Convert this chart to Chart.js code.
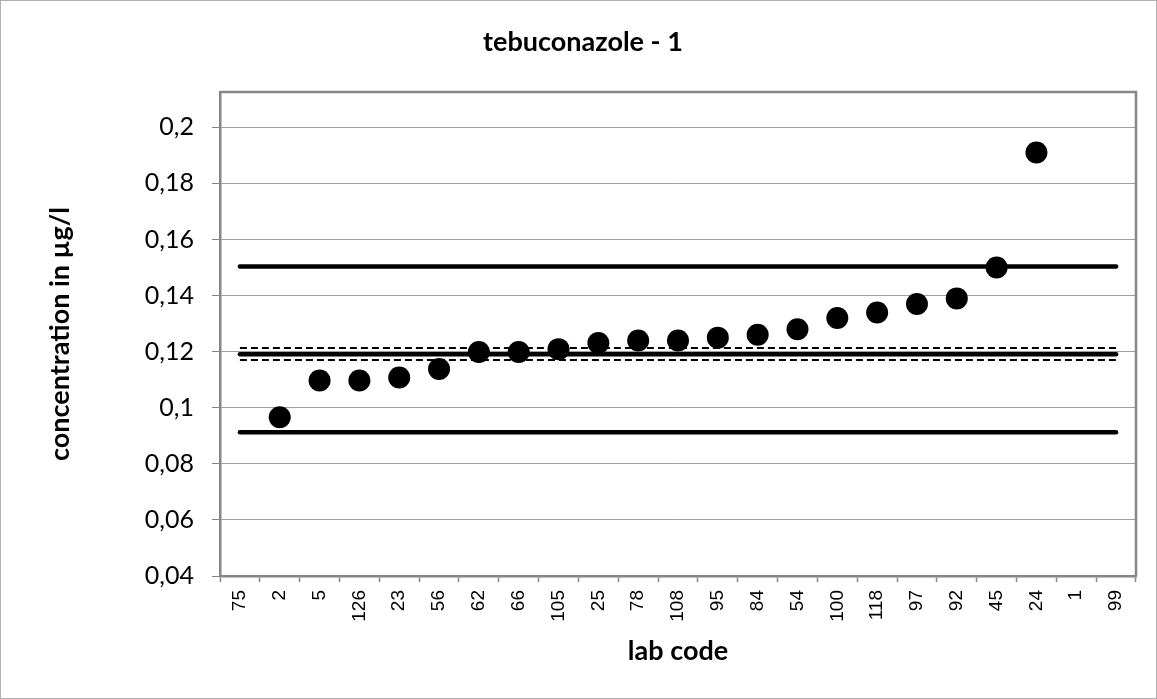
<!DOCTYPE html>
<html><head><meta charset="utf-8">
<script src="https://cdn.jsdelivr.net/npm/chart.js@4"></script>
<style>html,body{margin:0;padding:0;background:#fff}#wrap{width:1157px;height:699px;position:relative}</style>
</head><body><div id="wrap"><canvas id="c" width="1157" height="699"></canvas></div>
<script>
const labCodes = ['75','2','5','126','23','56','62','66','105','25','78','108','95','84','54','100','118','97','92','45','24','1','99'];
const concentrations = [null,0.0966,0.1097,0.1097,0.1108,0.1138,0.1199,0.1199,0.1209,0.1231,0.124,0.124,0.125,0.126,0.128,0.132,0.134,0.137,0.139,0.150,0.191,null,null];
const assignedValue = 0.1191;
const uncertaintyUpper = 0.1213;
const uncertaintyLower = 0.1170;
const toleranceUpper = 0.1504;
const toleranceLower = 0.0913;
const yTicks = [0.04,0.06,0.08,0.1,0.12,0.14,0.16,0.18,0.2];
const yMin = 0.04, yMax = 0.2126;

const constLine = v => labCodes.map(() => v);

const framePlugin = {
  id:'frame',
  beforeDraw(chart){
    const c = chart.ctx;
    c.save(); c.fillStyle='#fff'; c.fillRect(0,0,chart.width,chart.height); c.restore();
  },
  beforeDatasetsDraw(chart){
    const {ctx, chartArea:a} = chart;
    ctx.save();
    ctx.strokeStyle='#868686'; ctx.lineWidth=2.5;
    ctx.beginPath();
    ctx.moveTo(a.left, a.top); ctx.lineTo(a.right, a.top); ctx.lineTo(a.right, a.bottom);
    ctx.stroke();
    ctx.restore();
  },
  afterDraw(chart){
    const ctx = chart.ctx;
    ctx.save(); ctx.strokeStyle='#b0b0b0'; ctx.lineWidth=1;
    ctx.strokeRect(0.5,0.5,chart.width-1,chart.height-1);
    ctx.restore();
  }
};

const lineDs = (data, width, dash) => ({
  data, type:'line', borderColor:'#000', backgroundColor:'#000', borderWidth:width,
  borderDash:dash, pointRadius:0, pointHoverRadius:0, fill:false, tension:0,
  borderCapStyle: dash.length ? 'butt' : 'round'
});

new Chart(document.getElementById('c'), {
  type:'line',
  data:{
    labels: labCodes,
    datasets:[
      {data:concentrations, showLine:false, pointRadius:11, pointHoverRadius:11, pointBackgroundColor:'#000', pointBorderWidth:0, borderColor:'#000', backgroundColor:'#000'},
      lineDs(constLine(toleranceUpper),4.5,[]),
      lineDs(constLine(uncertaintyUpper),2,[7,4]),
      lineDs(constLine(assignedValue),4.5,[]),
      lineDs(constLine(uncertaintyLower),2,[7,4]),
      lineDs(constLine(toleranceLower),4.5,[])
    ]
  },
  options:{
    responsive:false, animation:false,
    layout:{padding:{left:30,right:21,top:0,bottom:0}},
    plugins:{
      legend:{display:false}, tooltip:{enabled:false},
      title:{display:true,text:'tebuconazole - 1',color:'#000',font:{family:'Lato',size:27,weight:'bold',lineHeight:1.2},padding:{top:25.8,bottom:33.8}}
    },
    scales:{
      x:{
        type:'category', offset:true,
        grid:{offset:true, drawOnChartArea:false, tickLength:6, color:'#868686', tickWidth:1.5},
        border:{color:'#868686', width:2.5},
        ticks:{minRotation:90, maxRotation:90, autoSkip:false, padding:8, color:'#000', font:{family:'Liberation Sans', size:19}},
        title:{display:true, text:'lab code', color:'#000', font:{family:'Lato', size:27, weight:'bold', lineHeight:1.2}, padding:{top:0,bottom:31.8}},
        afterFit(s){ s.height = 123; }
      },
      y:{
        min:yMin, max:yMax,
        afterBuildTicks(s){ s.ticks = yTicks.map(v => ({value:v})); },
        grid:{color:'#a0a0a0', lineWidth:1, tickLength:8, tickColor:'#868686'},
        border:{color:'#868686', width:2.5},
        ticks:{padding:18, color:'#000', font:{family:'Lato', size:25}, callback:v => String(+Number(v).toFixed(3)).replace('.', ',')},
        title:{display:true, text:'concentration in µg/l', color:'#000', font:{family:'Lato', size:27, weight:'bold', lineHeight:1.2}, padding:{top:13.8,bottom:0}},
        afterFit(s){ s.width = 190; }
      }
    }
  },
  plugins:[framePlugin]
});
</script></body></html>
